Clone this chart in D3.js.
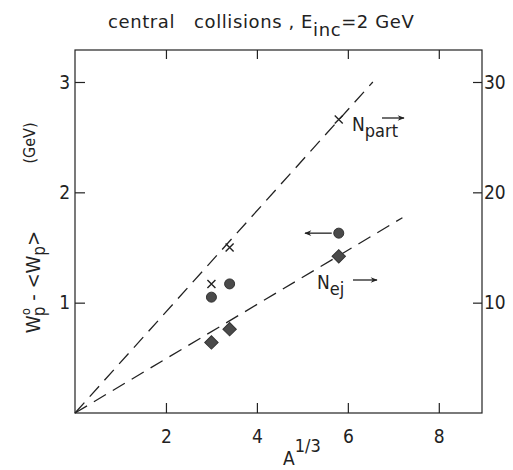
<!DOCTYPE html>
<html>
<head>
<meta charset="utf-8">
<script src="https://cdn.jsdelivr.net/npm/d3@7"></script>
<style>
body{margin:0;background:#fff;}
text{font-family:"DejaVu Sans Condensed","DejaVu Sans",sans-serif;fill:#222;}
text.title{font-family:"DejaVu Sans",sans-serif;letter-spacing:0.6px;}
</style>
</head>
<body>
<script>
const w=513;
const h=470;

// data
const aThird=[3.0,3.4,5.8];
const nPart=[1.17,1.50,2.66];     // crosses
const circles=[1.05,1.17,1.63];   // filled dots
const diamonds=[0.64,0.76,1.42];  // diamonds
const fitPart=[[0,0],[6.55,3.0]];
const fitEj=[[0,0],[7.2,1.77]];
const xTicks=[2,4,6,8];
const yTicks=[1,2,3];
const yRightTicks=[10,20,30];

let svg=d3.select("body").append("svg")
    .attr("width",w).attr("height",h);

const x=d3.scaleLinear().domain([0,8.95]).range([75,482]);
const y=d3.scaleLinear().domain([0,3.29]).range([413,50]);
const y2=d3.scaleLinear().domain([0,32.9]).range([413,50]);

// frame
svg.append("rect").attr("x",75).attr("y",50).attr("width",407).attr("height",363)
    .attr("fill","none").attr("stroke","#222").attr("stroke-width",1.2);

function styleAxis(g){
  g.attr("font-size",19).attr("font-family",null);
  g.select(".domain").remove();
  g.selectAll("line").attr("stroke","#222").attr("stroke-width",1.2);
  g.selectAll("text").style("fill","#222");
}

svg.append("g").attr("transform","translate(0,413)")
   .call(d3.axisBottom(x).tickValues(xTicks).tickSize(-10).tickPadding(17).tickFormat(d3.format("d")))
   .call(styleAxis);
svg.append("g").attr("transform","translate(0,50)")
   .call(d3.axisTop(x).tickValues(xTicks).tickSize(-9).tickFormat(""))
   .call(styleAxis);
svg.append("g").attr("transform","translate(75,0)")
   .call(d3.axisLeft(y).tickValues(yTicks).tickSize(-10).tickPadding(5).tickFormat(d3.format("d")))
   .call(styleAxis);
svg.append("g").attr("transform","translate(482,0)")
   .call(d3.axisRight(y2).tickValues(yRightTicks).tickSize(-9).tickPadding(2).tickFormat(d3.format("d")))
   .call(styleAxis);

// dashed fit lines
const line=d3.line().x(d=>x(d[0])).y(d=>y(d[1]));
[fitPart,fitEj].forEach(f=>{
  svg.append("path").attr("d",line(f)).attr("fill","none")
     .attr("stroke","#222").attr("stroke-width",1.3)
     .attr("stroke-dasharray","14,8");
});

// crosses
aThird.forEach((a,i)=>{
  const cx=x(a),cy=y(nPart[i]),s=4;
  svg.append("path").attr("d",`M${cx-s},${cy-s}L${cx+s},${cy+s}M${cx-s},${cy+s}L${cx+s},${cy-s}`)
     .attr("stroke","#222").attr("stroke-width",1.4);
});

svg.selectAll("circle.dot").data(aThird).enter().append("circle")
   .attr("class","dot")
   .attr("cx",d=>x(d)).attr("cy",(d,i)=>y(circles[i])).attr("r",5)
   .attr("fill","#4a4a4a").attr("stroke","#333").attr("stroke-width",1);

svg.selectAll("path.dia").data(aThird).enter().append("path")
   .attr("class","dia")
   .attr("d",d3.symbol().type(d3.symbolSquare).size(90))
   .attr("transform",(d,i)=>`translate(${x(d)},${y(diamonds[i])}) rotate(45)`)
   .attr("fill","#4a4a4a").attr("stroke","#333").attr("stroke-width",1);

// arrows
svg.append("defs").append("marker").attr("id","ah")
   .attr("viewBox","0 0 10 10").attr("refX",9).attr("refY",5)
   .attr("markerWidth",9).attr("markerHeight",7).attr("orient","auto")
   .attr("markerUnits","userSpaceOnUse")
   .append("path").attr("d","M0,1L10,5L0,9L3,5Z").attr("fill","#222");

function arrow(x1,y1,x2,y2){
  svg.append("line").attr("x1",x1).attr("y1",y1).attr("x2",x2).attr("y2",y2)
     .attr("stroke","#222").attr("stroke-width",1.3).attr("marker-end","url(#ah)");
}
arrow(x(aThird[2])-7,y(circles[2]),305,y(circles[2]));
arrow(382,118,404,118);
arrow(353,280,377,280);

// labels
let t=svg.append("text").attr("x",352).attr("y",131).attr("font-size",19);
t.append("tspan").text("N");
t.append("tspan").attr("dy",6).attr("font-size",18).text("part");

t=svg.append("text").attr("x",317).attr("y",289).attr("font-size",19);
t.append("tspan").text("N");
t.append("tspan").attr("dy",6).attr("font-size",18).text("ej");

t=svg.append("text").attr("class","title").attr("x",108).attr("y",28).attr("font-size",18)
  .attr("xml:space","preserve");
t.append("tspan").text("central   collisions , E");
t.append("tspan").attr("dy",8).text("inc");
t.append("tspan").attr("dy",-8).text("=2 GeV");

t=svg.append("text").attr("x",283).attr("y",465).attr("font-size",19);
t.append("tspan").text("A");
t.append("tspan").attr("dy",-13).attr("font-size",18).text("1/3");

// y label, rotated
t=svg.append("text").attr("transform","translate(40,282) rotate(-90)")
  .attr("text-anchor","middle").attr("font-size",20).attr("xml:space","preserve");
t.append("tspan").text("W");
t.append("tspan").attr("font-size",13).attr("dy",-10).text("o");
t.append("tspan").attr("font-size",17).attr("dy",15).attr("dx",-8).text("p");
t.append("tspan").attr("dy",-5).text(" - <W");
t.append("tspan").attr("font-size",17).attr("dy",5).text("p");
t.append("tspan").attr("dy",-5).text(">");

svg.append("text").attr("transform","translate(35,143) rotate(-90)")
  .attr("text-anchor","middle").attr("font-size",16).text("(GeV)");
</script>
</body>
</html>
